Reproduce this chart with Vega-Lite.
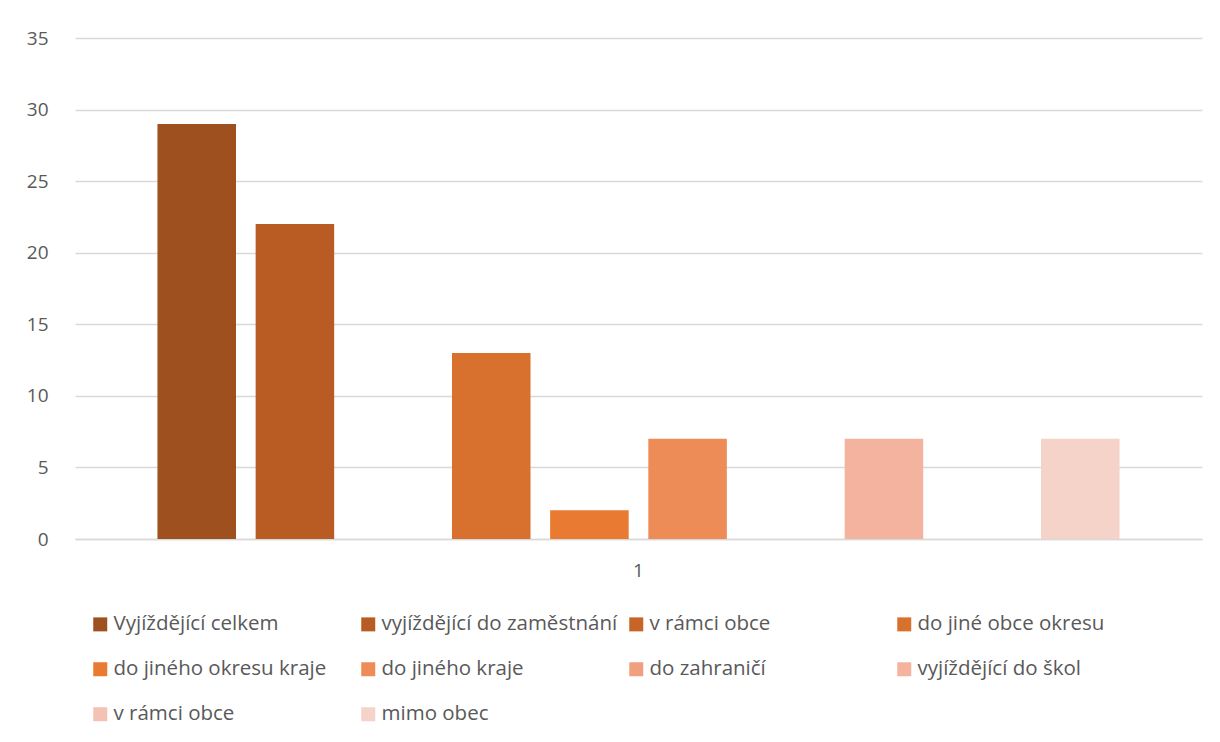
{
  "$schema": "https://vega.github.io/schema/vega-lite/v6.json",
  "autosize": {"type": "none"},
  "width": 1127,
  "height": 501,
  "padding": {"left": 75, "top": 38, "right": 18, "bottom": 203},
  "background": "white",
  "config": {
    "view": {"stroke": null},
    "font": "Open Sans"
  },
  "data": {
    "values": [
      {"cat": "1", "series": "s01", "value": 29},
      {"cat": "1", "series": "s02", "value": 22},
      {"cat": "1", "series": "s03", "value": null},
      {"cat": "1", "series": "s04", "value": 13},
      {"cat": "1", "series": "s05", "value": 2},
      {"cat": "1", "series": "s06", "value": 7},
      {"cat": "1", "series": "s07", "value": null},
      {"cat": "1", "series": "s08", "value": 7},
      {"cat": "1", "series": "s09", "value": null},
      {"cat": "1", "series": "s10", "value": 7}
    ]
  },
  "mark": {"type": "bar"},
  "encoding": {
    "x": {
      "field": "cat",
      "type": "nominal",
      "scale": {"paddingInner": 0, "paddingOuter": 0.074},
      "axis": {
        "title": null,
        "labelAngle": 0,
        "ticks": false,
        "domainColor": "#d9d9d9",
        "domainWidth": 1.3,
        "labelFontSize": 19,
        "labelColor": "#595959",
        "labelPadding": 22
      }
    },
    "xOffset": {
      "field": "series",
      "type": "nominal",
      "scale": {
        "domain": ["s01","s02","s03","s04","s05","s06","s07","s08","s09","s10"],
        "paddingInner": 0.2,
        "paddingOuter": 0.1
      }
    },
    "y": {
      "field": "value",
      "type": "quantitative",
      "scale": {"domain": [0, 35], "nice": false},
      "axis": {
        "title": null,
        "values": [0, 5, 10, 15, 20, 25, 30, 35],
        "domain": false,
        "ticks": false,
        "gridColor": "#d9d9d9",
        "gridWidth": 1.3,
        "labelFontSize": 19,
        "labelColor": "#595959",
        "labelPadding": 27
      }
    },
    "color": {
      "field": "series",
      "type": "nominal",
      "scale": {
        "domain": ["s01","s02","s03","s04","s05","s06","s07","s08","s09","s10"],
        "range": ["#9e511e", "#b85c23", "#c86428", "#d8712d", "#e87a31", "#ee8c57", "#f0a07e", "#f3b39e", "#f4c2b4", "#f5d3c8"]
      },
      "legend": {
        "title": null,
        "orient": "none",
        "legendX": 15,
        "legendY": 576,
        "columns": 4,
        "direction": "horizontal",
        "gridAlign": "all",
        "symbolType": "square",
        "symbolSize": 196,
        "symbolStrokeWidth": 0,
        "symbolOpacity": 1,
        "labelFontSize": 20.5,
        "labelColor": "#595959",
        "labelOffset": 3,
        "labelLimit": 400,
        "columnPadding": 8,
        "rowPadding": 24,
        "labelExpr": "{'s01':'Vyjíždějící celkem','s02':'vyjíždějící do zaměstnání','s03':'v rámci obce','s04':'do jiné obce okresu','s05':'do jiného okresu kraje','s06':'do jiného kraje','s07':'do zahraničí','s08':'vyjíždějící do škol','s09':'v rámci obce','s10':'mimo obec'}[datum.value]"
      }
    }
  }
}
